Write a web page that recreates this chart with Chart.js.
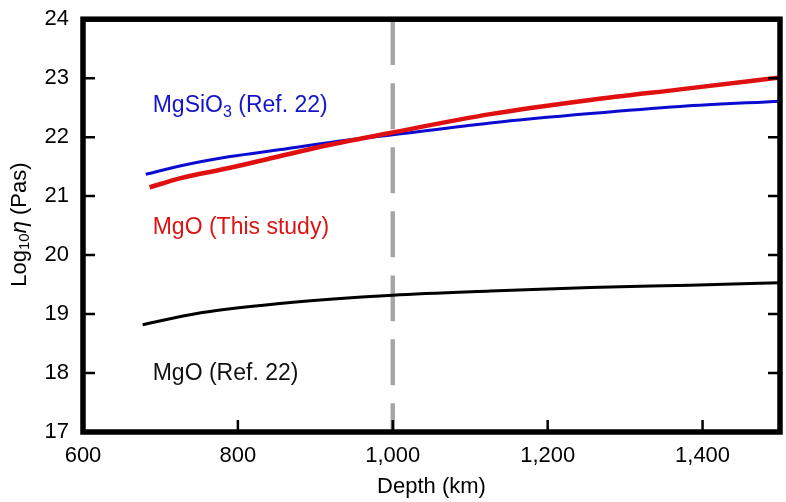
<!DOCTYPE html>
<html>
<head>
<meta charset="utf-8">
<script src="https://cdn.jsdelivr.net/npm/chart.js@4/dist/chart.umd.min.js"></script>
<style>
    html, body { margin: 0; padding: 0; background: #fff; }
    #wrap { width: 786px; height: 502px; position: relative; }
</style>
</head>
<body>
<div id="wrap"><canvas id="chart"></canvas></div>
<script>
    // 데이터
    const xTicks = [600, 800, 1000, 1200, 1400];
    const yTicks = [17, 18, 19, 20, 21, 22, 23, 24];

    const mgsio3Depth = [681, 725, 790, 855, 919, 1000, 1126, 1255, 1371, 1500];
    const mgsio3Visc  = [21.37, 21.51, 21.67, 21.79, 21.91, 22.04, 22.24, 22.40, 22.52, 22.61];

    const mgoDepth = [686, 725, 790, 855, 919, 1000, 1126, 1255, 1371, 1500];
    const mgoVisc  = [21.15, 21.30, 21.48, 21.68, 21.87, 22.08, 22.39, 22.63, 22.81, 23.01];

    const mgoRefDepth = [677, 747, 833, 919, 1000, 1126, 1255, 1384, 1500];
    const mgoRefVisc  = [18.82, 19.01, 19.15, 19.25, 19.32, 19.39, 19.45, 19.49, 19.53];

    const boundaryDepth = [1000, 1000];
    const boundaryVisc  = [24, 17];

    // 곡선 옆 텍스트 라벨
    const labelTexts  = ['MgSiO|3| (Ref. 22)', 'MgO (This study)', 'MgO (Ref. 22)'];
    const labelDepth  = [690, 690, 690];
    const labelVisc   = [22.53, 20.47, 17.99];
    const labelColors = ['#1414c8', '#dc1414', '#111111'];

    const FONT = '"Liberation Sans", Arial, Helvetica, sans-serif';

    function toPoints(xs, ys) {
        return xs.map((x, i) => ({ x: x, y: ys[i] }));
    }

    // 프레임, 안쪽 눈금, 라벨, y축 제목
    const decorPlugin = {
        id: 'decor',
        afterDraw: function(chart) {
            const ctx = chart.ctx;
            const a = chart.chartArea;
            const xs = chart.scales.x;
            const ys = chart.scales.y;
            const tick = 12;

            ctx.save();
            ctx.strokeStyle = '#000';
            ctx.lineWidth = 2.5;
            ctx.beginPath();
            yTicks.forEach(v => {
                const py = ys.getPixelForValue(v);
                ctx.moveTo(a.left, py); ctx.lineTo(a.left + tick, py);
                ctx.moveTo(a.right, py); ctx.lineTo(a.right - tick, py);
            });
            xTicks.forEach(v => {
                const px = xs.getPixelForValue(v);
                ctx.moveTo(px, a.bottom); ctx.lineTo(px, a.bottom - tick);
            });
            ctx.stroke();

            ctx.lineWidth = 5.5;
            ctx.strokeRect(a.left, a.top, a.right - a.left, a.bottom - a.top);

            // 곡선 라벨 (아래첨자는 |..| 로 표시)
            ctx.textBaseline = 'middle';
            ctx.textAlign = 'left';
            labelTexts.forEach((t, i) => {
                let px = xs.getPixelForValue(labelDepth[i]);
                const py = ys.getPixelForValue(labelVisc[i]);
                ctx.fillStyle = labelColors[i];
                t.split('|').forEach((part, k) => {
                    const sub = k % 2 === 1;
                    ctx.font = (sub ? '16px ' : '23px ') + FONT;
                    ctx.fillText(part, px, sub ? py + 7 : py);
                    px += ctx.measureText(part).width;
                });
            });

            // y축 제목: Log10η (Pas)
            ctx.translate(20, (a.top + a.bottom) / 2 - 1);
            ctx.rotate(-Math.PI / 2);
            ctx.fillStyle = '#000';
            const parts = [
                { t: 'Log', f: '22px ' + FONT, dy: 0 },
                { t: '10', f: '15px ' + FONT, dy: 5 },
                { t: 'η', f: 'italic 22px ' + FONT, dy: 0 },
                { t: ' (Pas)', f: '22px ' + FONT, dy: 0 }
            ];
            let total = 0;
            parts.forEach(p => { ctx.font = p.f; total += ctx.measureText(p.t).width; });
            let cx = -total / 2;
            parts.forEach(p => {
                ctx.font = p.f;
                ctx.fillText(p.t, cx, p.dy);
                cx += ctx.measureText(p.t).width;
            });
            ctx.restore();
        }
    };

    const lineBase = {
        fill: false,
        pointRadius: 0,
        cubicInterpolationMode: 'monotone'
    };

    new Chart(document.getElementById('chart').getContext('2d'), {
        type: 'line',
        data: {
            datasets: [
                {
                    ...lineBase,
                    label: 'MgO (This study)',
                    data: toPoints(mgoDepth, mgoVisc),
                    borderColor: '#e01010',
                    borderWidth: 4.5,
                    order: 1
                },
                {
                    ...lineBase,
                    label: 'MgSiO3 (Ref. 22)',
                    data: toPoints(mgsio3Depth, mgsio3Visc),
                    borderColor: '#0c0cd0',
                    borderWidth: 3,
                    order: 2
                },
                {
                    ...lineBase,
                    label: 'MgO (Ref. 22)',
                    data: toPoints(mgoRefDepth, mgoRefVisc),
                    borderColor: '#000000',
                    borderWidth: 3,
                    order: 3
                },
                {
                    ...lineBase,
                    label: 'boundary',
                    data: toPoints(boundaryDepth, boundaryVisc),
                    borderColor: '#a6a6a6',
                    borderWidth: 4.5,
                    borderDash: [46, 18],
                    borderCapStyle: 'butt',
                    order: 10
                }
            ]
        },
        options: {
            responsive: true,
            maintainAspectRatio: false,
            animation: false,
            events: [],
            layout: { padding: { top: 14, right: 6, left: 0, bottom: 0 } },
            plugins: {
                legend: { display: false },
                tooltip: { enabled: false }
            },
            scales: {
                x: {
                    type: 'linear',
                    min: 600,
                    max: 1500,
                    afterBuildTicks: function(scale) {
                        scale.ticks = xTicks.map(v => ({ value: v }));
                    },
                    afterFit: function(scale) { scale.height = 70; },
                    grid: { display: false },
                    border: { display: false },
                    ticks: {
                        color: '#000',
                        padding: 3,
                        maxRotation: 0,
                        font: { family: FONT, size: 22 },
                        callback: v => v.toLocaleString('en-US')
                    },
                    title: {
                        display: true,
                        text: 'Depth (km)',
                        color: '#000',
                        padding: { top: 0, bottom: 2 },
                        font: { family: FONT, size: 22 }
                    }
                },
                y: {
                    type: 'linear',
                    min: 17,
                    max: 24,
                    afterBuildTicks: function(scale) {
                        scale.ticks = yTicks.map(v => ({ value: v }));
                    },
                    afterFit: function(scale) { scale.width = 83; },
                    grid: { display: false },
                    border: { display: false },
                    ticks: {
                        color: '#000',
                        padding: 6,
                        font: { family: FONT, size: 22 }
                    }
                }
            }
        },
        plugins: [decorPlugin]
    });
</script>
</body>
</html>
